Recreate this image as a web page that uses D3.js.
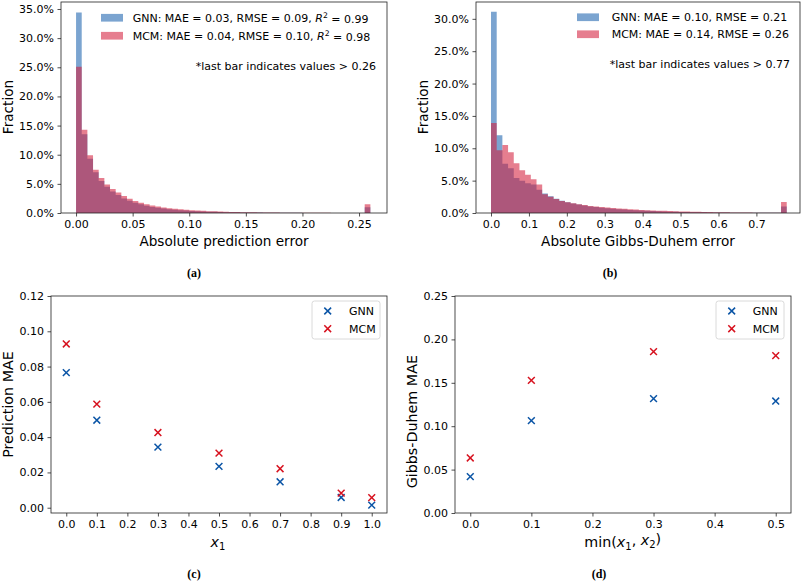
<!DOCTYPE html>
<html><head><meta charset="utf-8">
<script src="https://cdn.jsdelivr.net/npm/d3@7"></script>
<style>
html,body{margin:0;padding:0;background:#fff;}
svg text{font-family:"DejaVu Sans",sans-serif;fill:#000;}
</style></head>
<body><svg id="c" width="803" height="582"></svg>
<script>
// ---------------- DATA ----------------
// Histogram (a): absolute prediction error, bin width 0.005, last bin = overflow (> 0.26)
const binWidthA = 0.005;
const histA_GNN = [34.4,13.5,9.3,7.0,5.5,4.5,3.7,3.1,2.5,2.1,1.75,1.5,1.25,1.05,0.9,0.76,0.65,0.56,0.48,0.42,0.36,0.31,0.27,0.23,0.2,0.17,0.15,0.13,0.11,0.1,0.085,0.075,0.065,0.055,0.048,0.042,0.036,0.03,0.026,0.022,0.02,0.017,0.015,0.013,0.011,0.01,0.009,0.008,0.007,0.006,0.005,1.0];
const histA_MCM = [25.1,14.3,9.9,7.4,6.0,4.9,4.1,3.5,2.9,2.45,2.05,1.75,1.5,1.3,1.1,0.95,0.82,0.72,0.63,0.55,0.48,0.42,0.37,0.32,0.28,0.25,0.22,0.19,0.17,0.15,0.13,0.115,0.1,0.09,0.08,0.07,0.062,0.055,0.048,0.042,0.037,0.032,0.028,0.025,0.022,0.019,0.017,0.015,0.013,0.011,0.01,1.5];
const histA_xTicks = [0,0.05,0.10,0.15,0.20,0.25];
const histA_yTicks = [0,5,10,15,20,25,30,35];

// Histogram (b): absolute Gibbs-Duhem error, bin width 0.015, last bin = overflow (> 0.77)
const binWidthB = 0.015;
const histB_GNN = [31.1,12.0,7.6,6.9,5.4,5.0,4.6,4.4,3.6,3.0,2.6,2.2,1.9,1.65,1.45,1.3,1.15,1.02,0.92,0.82,0.74,0.66,0.59,0.53,0.47,0.42,0.38,0.34,0.3,0.27,0.24,0.21,0.19,0.17,0.15,0.13,0.12,0.1,0.09,0.08,0.07,0.06,0.055,0.05,0.045,0.04,0.035,0.03,0.03,0.025,0.02,1.0];
const histB_MCM = [13.9,9.7,10.5,9.4,7.7,6.6,5.9,5.2,4.4,2.9,2.5,2.15,1.85,1.65,1.5,1.35,1.22,1.1,1.0,0.92,0.84,0.77,0.7,0.64,0.58,0.53,0.48,0.44,0.4,0.36,0.33,0.3,0.27,0.24,0.22,0.2,0.18,0.16,0.14,0.12,0.11,0.1,0.09,0.08,0.07,0.06,0.05,0.045,0.04,0.035,0.03,1.7];
const histB_xTicks = [0,0.1,0.2,0.3,0.4,0.5,0.6,0.7];
const histB_yTicks = [0,5,10,15,20,25,30];

// Scatter (c): prediction MAE vs x1
const scatC_x = [0.0,0.1,0.3,0.5,0.7,0.9,1.0];
const scatC_GNN = [0.0766,0.0496,0.0343,0.0234,0.0147,0.0058,0.0015];
const scatC_MCM = [0.0928,0.0587,0.0426,0.0309,0.0221,0.0083,0.0057];
const scatC_xTicks = [0,0.1,0.2,0.3,0.4,0.5,0.6,0.7,0.8,0.9,1.0];
const scatC_yTicks = [0,0.02,0.04,0.06,0.08,0.10,0.12];

// Scatter (d): Gibbs-Duhem MAE vs min(x1,x2)
const scatD_x = [0.0,0.1,0.3,0.5];
const scatD_GNN = [0.0419,0.1064,0.1317,0.1290];
const scatD_MCM = [0.0634,0.1528,0.1859,0.1813];
const scatD_xTicks = [0,0.1,0.2,0.3,0.4,0.5];
const scatD_yTicks = [0,0.05,0.10,0.15,0.20,0.25];

const seriesNames = ["GNN","MCM"];
const legendA = ["GNN: MAE = 0.03, RMSE = 0.09, ", "MCM: MAE = 0.04, RMSE = 0.10, "];
const legendA_R2 = ["0.99","0.98"];
const legendB = ["GNN: MAE = 0.10, RMSE = 0.21", "MCM: MAE = 0.14, RMSE = 0.26"];
const noteA = "*last bar indicates values > 0.26";
const noteB = "*last bar indicates values > 0.77";

// ---------------- STYLE ----------------
const histColors = {GNN:"#2a6cb3", MCM:"#d31d3a"};
const histOpacity = {GNN:0.62, MCM:0.57};
const ptColors = {GNN:"#0b55a6", MCM:"#d7121f"};
const TICK = 11, LABEL_H = 13.6, LABEL_S = 14.3, LEG = 11;
const frameColor = "#222";

const svg = d3.select("#c");

function panel(cfg){
  const g = svg.append("g");
  const x = d3.scaleLinear().domain(cfg.xd).range([cfg.l, cfg.r]);
  const y = d3.scaleLinear().domain(cfg.yd).range([cfg.b, cfg.t]);
  const xa = g.append("g").attr("transform",`translate(0,${cfg.b})`)
    .call(d3.axisBottom(x).tickValues(cfg.xt).tickFormat(cfg.xf).tickSize(3.5).tickPadding(3.5).tickSizeOuter(0));
  const ya = g.append("g").attr("transform",`translate(${cfg.l},0)`)
    .call(d3.axisLeft(y).tickValues(cfg.yt).tickFormat(cfg.yf).tickSize(3.5).tickPadding(3.5).tickSizeOuter(0));
  [xa,ya].forEach(a=>{
    a.select(".domain").remove();
    a.selectAll("line").attr("stroke",frameColor).attr("stroke-width",0.8);
    a.selectAll("text").style("font-family","DejaVu Sans").style("font-size",TICK+"px").attr("fill","#000");
  });
  return {g,x,y};
}
function frame(g,cfg){
  g.append("rect").attr("x",cfg.l).attr("y",cfg.t).attr("width",cfg.r-cfg.l).attr("height",cfg.b-cfg.t)
    .attr("fill","none").attr("stroke",frameColor).attr("stroke-width",0.8);
}
function hist(p, vals, bw, name){
  const pts = vals.map((v,i)=>({x0:i*bw, v}));
  pts.push({x0:vals.length*bw, v:vals[vals.length-1]});
  const area = d3.area().x(d=>p.x(d.x0)).y0(p.y(0)).y1(d=>p.y(d.v)).curve(d3.curveStepAfter);
  p.g.append("path").attr("d",area(pts)).attr("fill",histColors[name]).attr("fill-opacity",histOpacity[name]);
}
function xmark(g, cx, cy, col){
  const s=3.4;
  g.append("path").attr("d",`M${cx-s},${cy-s}L${cx+s},${cy+s}M${cx-s},${cy+s}L${cx+s},${cy-s}`)
   .attr("stroke",col).attr("stroke-width",1.5).attr("fill","none");
}
function ylabel(text,x,y,size){
  return svg.append("text").attr("transform",`translate(${x},${y}) rotate(-90)`).attr("text-anchor","middle")
    .attr("dy","0.35em").style("font-size",size+"px").text(text);
}
function caption(text,x,y){
  svg.append("text").attr("x",x).attr("y",y).attr("text-anchor","middle").attr("dy","0.35em")
    .style("font-family","'Liberation Serif',serif").style("font-weight","bold").style("font-size","12px").text(text);
}
const pct = d=>d.toFixed(1)+"%";

// ---------- Panel (a) ----------
const cfgA = {l:61,r:387,t:2,b:213,xd:[-0.0133,0.2747],yd:[0,36.2],xt:histA_xTicks,yt:histA_yTicks,xf:d3.format(".2f"),yf:pct};
const pA = panel(cfgA);
hist(pA, histA_GNN, binWidthA, "GNN");
hist(pA, histA_MCM, binWidthA, "MCM");
frame(pA.g,cfgA);
[0,1].forEach(i=>{
  const name=seriesNames[i], cy=[17.7,35.7][i];
  pA.g.append("rect").attr("x",101).attr("y",cy-3.8).attr("width",22).attr("height",7.7).attr("fill",histColors[name]).attr("fill-opacity",histOpacity[name]);
  const t = pA.g.append("text").attr("x",132.7).attr("y",cy).attr("dy","0.35em").style("font-size",LEG+"px");
  t.append("tspan").text(legendA[i]);
  t.append("tspan").style("font-style","italic").text("R");
  t.append("tspan").attr("dy","-0.4em").style("font-size","7.7px").text("2");
  t.append("tspan").attr("dy","0.4em").text(" = "+legendA_R2[i]);
});
pA.g.append("text").attr("x",376).attr("y",65.7).attr("dy","0.35em").attr("text-anchor","end").style("font-size",LEG+"px").text(noteA);
svg.append("text").attr("x",224).attr("y",241).attr("dy","0.35em").attr("text-anchor","middle").style("font-size",LABEL_H+"px").text("Absolute prediction error");
ylabel("Fraction",8,107,LABEL_H);
caption("(a)",194,273);

// ---------- Panel (b) ----------
const cfgB = {l:476,r:800,t:2,b:213,xd:[-0.0396,0.815],yd:[0,32.6],xt:histB_xTicks,yt:histB_yTicks,xf:d3.format(".1f"),yf:pct};
const pB = panel(cfgB);
hist(pB, histB_GNN, binWidthB, "GNN");
hist(pB, histB_MCM, binWidthB, "MCM");
frame(pB.g,cfgB);
[0,1].forEach(i=>{
  const name=seriesNames[i], cy=[17.2,34.2][i];
  pB.g.append("rect").attr("x",577).attr("y",cy-3.8).attr("width",22).attr("height",7.7).attr("fill",histColors[name]).attr("fill-opacity",histOpacity[name]);
  pB.g.append("text").attr("x",611.7).attr("y",cy).attr("dy","0.35em").style("font-size",LEG+"px").text(legendB[i]);
});
pB.g.append("text").attr("x",790).attr("y",63.8).attr("dy","0.35em").attr("text-anchor","end").style("font-size",LEG+"px").text(noteB);
svg.append("text").attr("x",638).attr("y",241).attr("dy","0.35em").attr("text-anchor","middle").style("font-size",LABEL_H+"px").text("Absolute Gibbs-Duhem error");
ylabel("Fraction",423,107,LABEL_H);
caption("(b)",610,273);

// ---------- Panel (c) ----------
const cfgC = {l:51,r:387,t:296,b:513,xd:[-0.05,1.05],yd:[-0.003,0.12],xt:scatC_xTicks,yt:scatC_yTicks,xf:d3.format(".1f"),yf:d3.format(".2f")};
const pC = panel(cfgC);
frame(pC.g,cfgC);
scatC_x.forEach((xv,i)=>{ xmark(pC.g,pC.x(xv),pC.y(scatC_GNN[i]),ptColors.GNN); });
scatC_x.forEach((xv,i)=>{ xmark(pC.g,pC.x(xv),pC.y(scatC_MCM[i]),ptColors.MCM); });
function scatLegend(p,x0,y0,w,h,mx,tx,rows){
  p.g.append("rect").attr("x",x0).attr("y",y0).attr("width",w).attr("height",h).attr("rx",2.5)
    .attr("fill","#fff").attr("fill-opacity",0.8).attr("stroke","#d0d0d0").attr("stroke-width",0.8);
  seriesNames.forEach((n,i)=>{
    xmark(p.g,mx,rows[i],ptColors[n]);
    p.g.append("text").attr("x",tx).attr("y",rows[i]).attr("dy","0.35em").style("font-size",LEG+"px").text(n);
  });
}
scatLegend(pC,312,301,68,38,327.7,349,[311,328.7]);
const xl1 = svg.append("text").attr("x",218).attr("y",541.7).attr("dy","0.35em").attr("text-anchor","middle").style("font-size",LABEL_S+"px");
xl1.append("tspan").style("font-style","italic").text("x");
xl1.append("tspan").attr("dy","0.3em").style("font-size","10px").text("1");
ylabel("Prediction MAE",8,404.5,LABEL_S);
caption("(c)",194,574);

// ---------- Panel (d) ----------
const cfgD = {l:455,r:791,t:296,b:513,xd:[-0.025,0.525],yd:[0,0.25],xt:scatD_xTicks,yt:scatD_yTicks,xf:d3.format(".1f"),yf:d3.format(".2f")};
const pD = panel(cfgD);
frame(pD.g,cfgD);
scatD_x.forEach((xv,i)=>{ xmark(pD.g,pD.x(xv),pD.y(scatD_GNN[i]),ptColors.GNN); });
scatD_x.forEach((xv,i)=>{ xmark(pD.g,pD.x(xv),pD.y(scatD_MCM[i]),ptColors.MCM); });
scatLegend(pD,716,301,68,38,731.7,752.7,[311,328.7]);
const xl2 = svg.append("text").attr("x",622.7).attr("y",541.7).attr("dy","0.35em").attr("text-anchor","middle").style("font-size",LABEL_S+"px");
xl2.append("tspan").text("min(");
xl2.append("tspan").style("font-style","italic").text("x");
xl2.append("tspan").attr("dy","0.3em").style("font-size","10px").text("1");
xl2.append("tspan").attr("dy","-0.3em").text(", ");
xl2.append("tspan").style("font-style","italic").text("x");
xl2.append("tspan").attr("dy","0.3em").style("font-size","10px").text("2");
xl2.append("tspan").attr("dy","-0.3em").text(")");
ylabel("Gibbs-Duhem MAE",412,421.7,LABEL_S);
caption("(d)",599,574);
</script></body></html>
